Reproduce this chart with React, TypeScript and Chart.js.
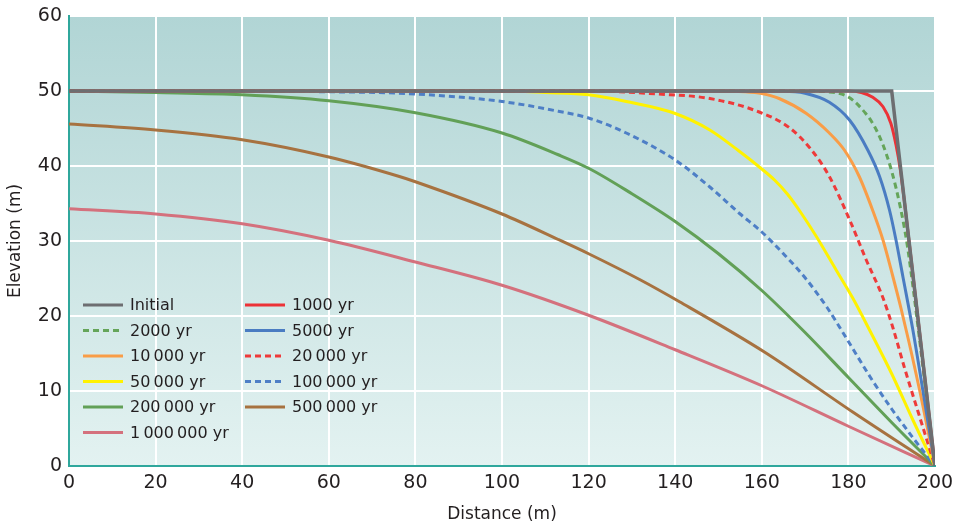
import React, { useEffect, useRef } from 'react';
import { Chart, registerables } from 'chart.js';

Chart.register(...registerables);

// ---- data: [distance (m), elevation (m)] ----
const initialPts = [[0, 50], [190, 50], [200, 0]];
const yr1000 = [[0, 50], [180, 50], [183, 49.8], [185.5, 49.2], [188, 47.9], [189.8, 45.7], [191, 42.8], [192, 39.5], [194, 30], [196, 20], [198, 10], [200, 0]];
const yr2000 = [[0, 50], [170, 50], [175, 49.9], [180, 49.2], [184, 47], [186, 45.3], [188, 42.8], [190, 39.3], [192, 34.5], [193.5, 29.8], [195, 23.5], [197, 14.2], [200, 0]];
const yr5000 = [[0, 50], [165, 49.97], [170, 49.7], [175.6, 48.5], [180.3, 46.1], [184.5, 42.1], [187.2, 38.6], [189.5, 34.1], [191, 30.1], [192.6, 25.2], [194.9, 18.1], [197.5, 9], [200, 0]];
const yr10000 = [[0, 50], [150, 50], [156, 49.9], [160, 49.65], [164, 49], [170.3, 47], [175.6, 44.4], [179.1, 42.1], [182.5, 38.6], [185.6, 34.1], [188, 30.1], [190.3, 25.2], [192.2, 20.9], [194, 16.5], [197, 8.6], [200, 0]];
const yr20000 = [[0, 50], [120, 50], [136, 49.6], [148, 49], [159.4, 47.2], [166.4, 45.1], [171.4, 42.2], [175.6, 38.6], [180.6, 32.4], [184.1, 27.5], [188, 22.4], [190.3, 18.4], [193, 13], [196, 7.4], [200, 0]];
const yr50000 = [[0, 50], [100, 50], [110, 49.8], [120, 49.5], [128.7, 48.6], [140, 47], [148, 44.8], [154.5, 42.1], [160, 39.6], [163, 38.1], [166, 36.2], [169, 33.8], [172.6, 30.6], [177.2, 26.1], [181, 22.4], [185, 18], [190, 12.3], [195, 6], [200, 0]];
const yr100000 = [[0, 50], [40, 49.95], [60, 49.9], [80, 49.6], [100, 48.6], [113, 47.3], [120, 46.4], [128.7, 44.4], [140, 40.8], [148, 37.2], [155, 33.6], [160, 31.2], [165, 28.3], [170, 25.1], [175, 21.2], [180, 16.6], [185, 11.9], [190, 7.6], [195, 3.7], [200, 0]];
const yr200000 = [[0, 50], [20, 49.8], [40, 49.5], [60, 48.7], [80, 47.1], [100, 44.4], [113, 41.5], [120, 39.7], [130, 36.3], [140, 32.6], [150, 28.3], [160, 23.4], [170, 17.8], [180, 11.8], [190, 5.8], [200, 0]];
const yr500000 = [[0, 45.6], [20, 44.8], [40, 43.5], [60, 41.2], [76.3, 38.6], [80, 37.9], [100, 33.6], [113, 30.2], [120, 28.3], [132, 24.8], [141, 21.9], [160.6, 15.2], [181, 7.2], [200, 0]];
const yr1000000 = [[0, 34.3], [20, 33.6], [40, 32.3], [60, 30.1], [80, 27.2], [100, 24.1], [120, 20.1], [140, 15.5], [160, 10.7], [180, 5.3], [200, 0]];

const seriesData = [initialPts, yr1000, yr2000, yr5000, yr10000, yr20000, yr50000, yr100000, yr200000, yr500000, yr1000000];
const seriesLabels = ['Initial', '1000 yr', '2000 yr', '5000 yr', '10\u2009000 yr', '20\u2009000 yr', '50\u2009000 yr', '100\u2009000 yr', '200\u2009000 yr', '500\u2009000 yr', '1\u2009000\u2009000 yr'];

// ---- styles ----
const seriesColors = ['#6d6e71', '#ec3237', '#65a55a', '#4a7cc2', '#f99d47', '#ee3a3a', '#fff200', '#4e7fc6', '#62a057', '#a77240', '#d4717d'];
const seriesDashed = [false, false, true, false, false, true, false, true, false, false, false];

const FONT = "'DejaVu Sans', sans-serif";
const TEXT = '#231f20';

const bgPlugin = {
  id: 'bgGradient',
  beforeDraw(chart: any) {
    const { ctx, chartArea } = chart;
    if (!chartArea) return;
    const g = ctx.createLinearGradient(0, chartArea.top, 0, chartArea.bottom);
    g.addColorStop(0, '#b1d5d5');
    g.addColorStop(1, '#e3f2f1');
    ctx.save();
    ctx.fillStyle = g;
    ctx.fillRect(chartArea.left, chartArea.top, chartArea.right - chartArea.left, chartArea.bottom - chartArea.top);
    ctx.restore();
  },
};

const gridLegendPlugin = {
  id: 'gridLegend',
  afterDatasetsDraw(chart: any) {
    const { ctx } = chart;
    const ds = chart.data.datasets;
    const colLine = [83, 245];
    const colText = [130, 292];
    const lineLen = 40;
    const y0 = 305;
    const rowH = 25.5;
    ctx.save();
    ctx.font = `16px ${FONT}`;
    ctx.textBaseline = 'middle';
    ctx.textAlign = 'left';
    ds.forEach((d: any, i: number) => {
      const row = Math.floor(i / 2);
      const col = i % 2;
      const y = y0 + row * rowH;
      ctx.beginPath();
      ctx.setLineDash(d.borderDash || []);
      ctx.strokeStyle = d.borderColor;
      ctx.lineWidth = 3;
      ctx.moveTo(colLine[col], y);
      ctx.lineTo(colLine[col] + lineLen, y);
      ctx.stroke();
      ctx.setLineDash([]);
      ctx.fillStyle = TEXT;
      ctx.fillText(d.label, colText[col], y + 1);
    });
    ctx.restore();
  },
};

export default function App() {
  const ref = useRef<HTMLCanvasElement | null>(null);

  useEffect(() => {
    if (!ref.current) return;
    const datasets = seriesData.map((pts, i) => ({
      label: seriesLabels[i],
      data: pts.map(([x, y]) => ({ x, y })),
      borderColor: seriesColors[i],
      backgroundColor: seriesColors[i],
      borderWidth: i === 0 ? 3.5 : 3,
      borderDash: seriesDashed[i] ? [6, 4] : [],
      pointRadius: 0,
      fill: false,
      tension: i === 0 ? 0 : 0.4,
      cubicInterpolationMode: i === 0 ? 'default' : 'monotone',
    }));

    const chart = new Chart(ref.current, {
      type: 'line',
      data: { datasets } as any,
      options: {
        animation: false,
        responsive: true,
        maintainAspectRatio: false,
        layout: { padding: { top: 16, right: 20, left: 0, bottom: 0 } },
        plugins: {
          legend: { display: false },
          tooltip: { enabled: false },
        },
        scales: {
          x: {
            type: 'linear',
            min: 0,
            max: 200,
            ticks: { stepSize: 20, font: { family: FONT, size: 19 }, color: TEXT, padding: 6, maxRotation: 0 },
            grid: { color: '#ffffff', lineWidth: 2, drawTicks: false },
            border: { display: true, color: '#2fa79c', width: 2 },
            title: { display: true, text: 'Distance (m)', font: { family: FONT, size: 17 }, color: TEXT, padding: { top: 0, bottom: 2 } },
            afterFit(scale: any) { scale.height = 61; scale.paddingLeft = 0; scale.paddingRight = 0; },
          },
          y: {
            type: 'linear',
            min: 0,
            max: 60,
            ticks: { stepSize: 10, font: { family: FONT, size: 19 }, color: TEXT, padding: 7 },
            grid: { color: '#ffffff', lineWidth: 2, drawTicks: false },
            border: { display: true, color: '#2fa79c', width: 2 },
            title: { display: true, text: 'Elevation (m)', font: { family: FONT, size: 17 }, color: TEXT, padding: { top: 5, bottom: 0 } },
            afterFit(scale: any) { scale.width = 69; scale.paddingTop = 0; scale.paddingBottom = 0; },
          },
        },
      } as any,
      plugins: [bgPlugin, gridLegendPlugin],
    });
    return () => chart.destroy();
  }, []);

  return (
    <div style={{ position: 'fixed', left: 0, top: 0, width: 955, height: 527, background: '#fff' }}>
      <canvas ref={ref} />
    </div>
  );
}
